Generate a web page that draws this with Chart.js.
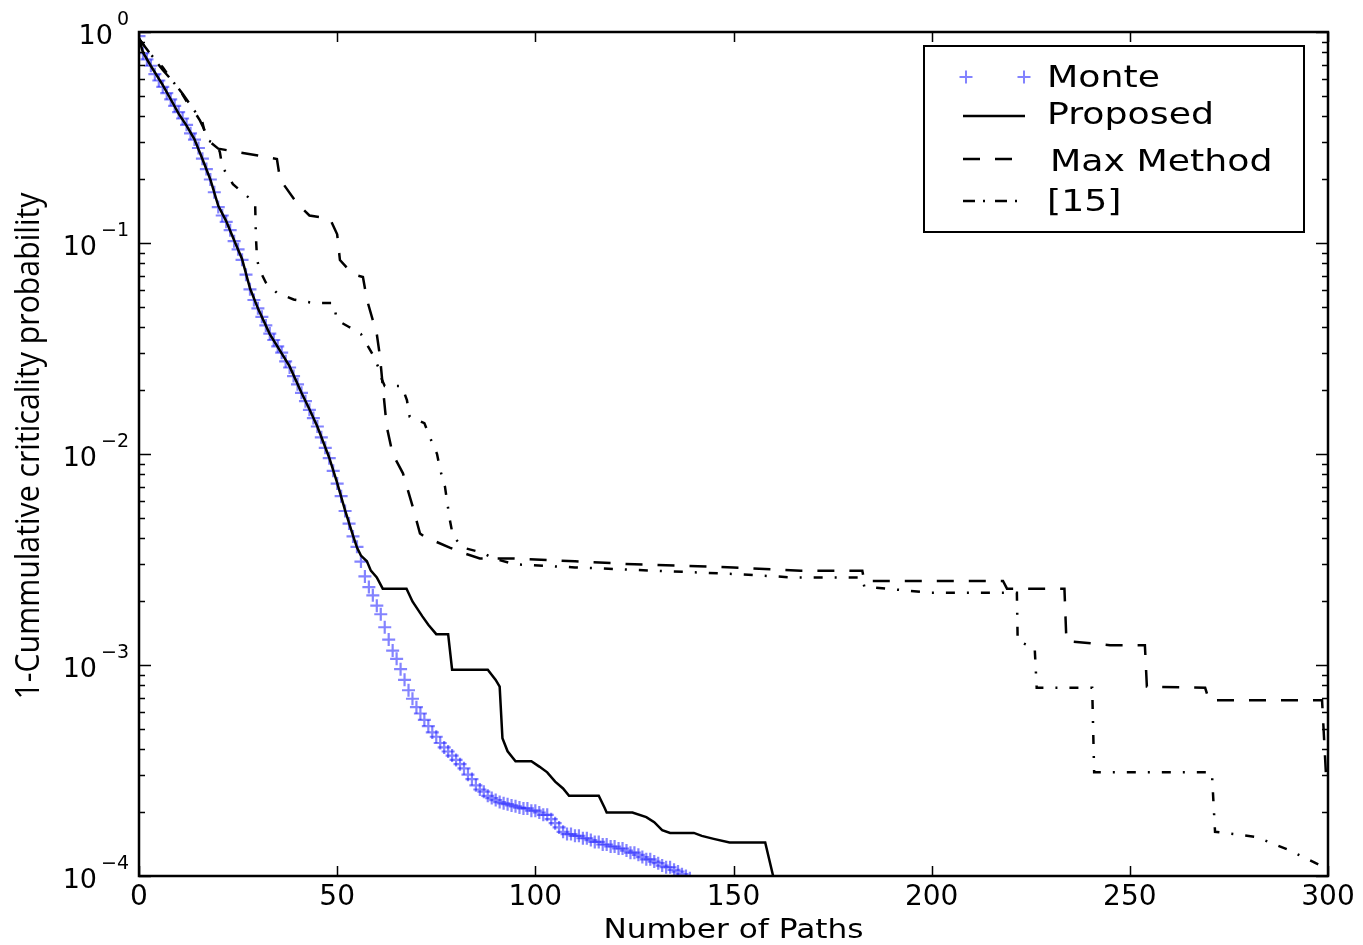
<!DOCTYPE html>
<html>
<head>
<meta charset="utf-8">
<script src="https://cdn.jsdelivr.net/npm/chart.js@4.4.0/dist/chart.umd.min.js"></script>
<style>
  html, body { margin: 0; padding: 0; background: #fff; }
  #wrap { width: 1363px; height: 945px; }
</style>
</head>
<body>
<div id="wrap"><canvas id="pathChart" width="1363" height="945"></canvas></div>
<script>
// axis ticks
const xTicks = [0, 50, 100, 150, 200, 250, 300];
const yDecades = [0, -1, -2, -3, -4];

// Monte Carlo estimate, one value per path count (x = 0, 1, 2, ...)
const monteProb = [
  0.955, 0.794, 0.741, 0.692, 0.631, 0.589, 0.550, 0.513, 0.479, 0.447,
  0.417, 0.389, 0.363, 0.331, 0.309, 0.282, 0.251, 0.224, 0.200, 0.174,
  0.148, 0.135, 0.126, 0.115, 0.102, 0.0933, 0.0832, 0.0708, 0.0603, 0.0537,
  0.0490, 0.0447, 0.0407, 0.0372, 0.0347, 0.0324, 0.0302, 0.0275, 0.0257, 0.0234,
  0.0214, 0.0195, 0.0178, 0.0162, 0.0148, 0.0135, 0.0120, 0.0107, 0.00955, 0.00832,
  0.00724, 0.00631, 0.00537, 0.00468, 0.00407, 0.00363, 0.00309, 0.00263, 0.00234, 0.00214,
  0.00191, 0.00174, 0.00151, 0.00132, 0.00117, 0.00107, 0.000955, 0.000851, 0.000759, 0.000692,
  0.000631, 0.000589, 0.000550, 0.000513, 0.000479, 0.000457, 0.000427, 0.000407, 0.000389, 0.000372,
  0.000355, 0.000339, 0.000324, 0.000302, 0.000288, 0.000269, 0.000257, 0.000251, 0.000240, 0.000234,
  0.000229, 0.000224, 0.000221, 0.000219, 0.000216, 0.000214, 0.000211, 0.000209, 0.000209, 0.000204,
  0.000204, 0.000200, 0.000195, 0.000195, 0.000186, 0.000178, 0.000170, 0.000162, 0.000158, 0.000158,
  0.000155, 0.000155, 0.000151, 0.000151, 0.000148, 0.000145, 0.000145, 0.000141, 0.000141, 0.000138,
  0.000138, 0.000135, 0.000135, 0.000132, 0.000129, 0.000129, 0.000126, 0.000123, 0.000120, 0.000120,
  0.000117, 0.000115, 0.000112, 0.000110, 0.000110, 0.000107, 0.000105, 0.000102, 0.000100, 0.0000977
];

// proposed method
const proposedX = [0, 1, 3, 6, 8, 10, 12, 14, 16, 18, 20, 22, 24, 26, 28, 30, 33, 36, 38, 41,
  43, 45, 48, 50, 52, 54, 55, 56, 57.5, 58.5, 60, 61.5, 67.5, 69, 71.5, 73, 75, 78, 79, 88,
  90, 91, 91.7, 93, 95, 99, 101, 103, 105, 107, 108.5, 116, 117.5, 118, 124.5, 128, 130, 132, 134, 140,
  142, 145, 149, 158, 160, 162];
const proposedY = [0.93, 0.80, 0.69, 0.56, 0.48, 0.41, 0.36, 0.31, 0.25, 0.20, 0.15, 0.127, 0.103, 0.084, 0.061, 0.049, 0.037, 0.030, 0.026, 0.0195,
  0.0163, 0.0135, 0.0096, 0.0073, 0.0054, 0.0041, 0.0036, 0.0033, 0.0031, 0.0028, 0.0026, 0.0023, 0.0023, 0.0020, 0.0017, 0.00155, 0.0014, 0.0014, 0.00095, 0.00095,
  0.00085, 0.00079, 0.00045, 0.00039, 0.00035, 0.00035, 0.00033, 0.00031, 0.00028, 0.00026, 0.00024, 0.00024, 0.00021, 0.00020, 0.00020, 0.00019, 0.00018, 0.000165, 0.00016, 0.00016,
  0.000155, 0.00015, 0.000144, 0.000144, 0.0001, 0.000098];

// max method
const maxX = [0, 3, 6, 9, 11, 13, 15.4, 18, 20, 24.7, 30, 34.8, 35.6, 39.8, 43, 48.2, 50, 50.7, 54, 56.5,
  57.5, 60, 60.8, 61.5, 62.5, 64, 66.6, 69.1, 70.9, 72.5, 74.1, 78.4, 81.7, 86, 94, 110, 125, 150, 167, 182.5,
  183, 218, 219, 233.5, 234, 245, 253.8, 254.3, 269, 270, 298.5, 299.5, 300];
const maxY = [0.93, 0.78, 0.66, 0.57, 0.51, 0.45, 0.38, 0.30, 0.28, 0.27, 0.26, 0.25, 0.20, 0.155, 0.135, 0.13, 0.11, 0.083, 0.071, 0.069,
  0.054, 0.037, 0.029, 0.021, 0.0135, 0.010, 0.0081, 0.0056, 0.0042, 0.0040, 0.0039, 0.0036, 0.0034, 0.0032, 0.0032, 0.0031, 0.0030, 0.0029, 0.0028, 0.0028,
  0.0025, 0.0025, 0.0023, 0.0023, 0.0013, 0.00124, 0.00124, 0.00079, 0.00078, 0.00068, 0.00068, 0.0003, 0.00029];

// method of [15]
const ref15X = [0, 3, 6, 8, 10.3, 12, 14.6, 15.9, 17, 19.7, 20.4, 21, 23.7, 26.7, 29.3, 29.5, 29.8, 30.5, 32, 34.8,
  39, 43.9, 49, 50, 53, 56, 58.8, 60.3, 61.3, 62, 66.3, 67.6, 68.3, 72, 73.4, 75.2, 76, 77.2, 78.4, 79.2,
  81.7, 86.8, 89.3, 95, 110, 130, 150, 165, 182.5, 183, 200, 221.5, 221.7, 226, 226.5, 240.5, 241, 270.7, 271.5, 282,
  290, 299];
const ref15Y = [0.93, 0.78, 0.68, 0.60, 0.53, 0.47, 0.41, 0.38, 0.31, 0.29, 0.27, 0.23, 0.19, 0.17, 0.155, 0.107, 0.083, 0.074, 0.065, 0.058,
  0.054, 0.052, 0.052, 0.043, 0.040, 0.037, 0.030, 0.026, 0.0225, 0.021, 0.021, 0.018, 0.015, 0.014, 0.012, 0.010, 0.0084, 0.0070, 0.0049, 0.0041,
  0.0036, 0.0034, 0.0032, 0.0030, 0.0029, 0.0028, 0.0027, 0.0026, 0.0026, 0.00235, 0.0022, 0.0022, 0.0013, 0.0012, 0.00078, 0.00078, 0.00031, 0.00031, 0.000162, 0.000153,
  0.000133, 0.00011];

const seriesNames = ['Monte', 'Proposed', 'Max Method', '[15]'];

const FONT = '"DejaVu Sans", sans-serif';
const monteColor = 'rgba(30, 30, 255, 0.55)';
const dashMax = [17, 15];
const dashRef = [9, 12, 2, 12];

function pairs(xs, ys) {
  return xs.map((x, i) => ({ x: x, y: ys[i] }));
}

// text drawn with a horizontal stretch, like the original figure
function wideText(ctx, text, x, y, size, sx, align) {
  ctx.save();
  ctx.font = size + 'px ' + FONT;
  ctx.translate(x, y);
  ctx.scale(sx, 1);
  ctx.textAlign = align || 'left';
  ctx.textBaseline = 'alphabetic';
  ctx.fillText(text, 0, 0);
  ctx.restore();
}

function drawCross(ctx, x, y, r) {
  ctx.beginPath();
  ctx.moveTo(x - r, y); ctx.lineTo(x + r, y);
  ctx.moveTo(x, y - r); ctx.lineTo(x, y + r);
  ctx.stroke();
}

// frame, inward ticks, tick labels, axis titles and legend box
const axesDecor = {
  id: 'axesDecor',
  afterDraw(chart) {
    const ctx = chart.ctx;
    const a = chart.chartArea;
    const xs = chart.scales.x, ys = chart.scales.y;
    ctx.save();
    ctx.strokeStyle = '#000';
    ctx.fillStyle = '#000';

    // ticks
    ctx.lineWidth = 1.5;
    ctx.beginPath();
    xTicks.forEach(v => {
      const px = Math.round(xs.getPixelForValue(v)) + 0.5;
      ctx.moveTo(px, a.bottom); ctx.lineTo(px, a.bottom - 10);
      ctx.moveTo(px, a.top); ctx.lineTo(px, a.top + 10);
    });
    yDecades.forEach(e => {
      for (let m = 1; m < 10; m++) {
        const v = m * Math.pow(10, e);
        if (v > 1.0000001) break;
        const py = Math.round(ys.getPixelForValue(v)) + 0.5;
        const len = m === 1 ? 12 : 6;
        ctx.moveTo(a.left, py); ctx.lineTo(a.left + len, py);
        ctx.moveTo(a.right, py); ctx.lineTo(a.right - len, py);
      }
    });
    ctx.stroke();

    // frame
    ctx.lineWidth = 2.5;
    ctx.strokeRect(a.left, a.top, a.right - a.left, a.bottom - a.top);

    // x tick labels
    ctx.font = '28px ' + FONT;
    ctx.textAlign = 'center';
    ctx.textBaseline = 'alphabetic';
    xTicks.forEach(v => {
      ctx.fillText(String(v), xs.getPixelForValue(v), a.bottom + 29);
    });

    // y tick labels as powers of ten
    ctx.textAlign = 'left';
    yDecades.forEach(e => {
      const py = ys.getPixelForValue(Math.pow(10, e));
      const sup = e === 0 ? '0' : '\u2212' + (-e);
      ctx.font = '27px ' + FONT;
      const wb = ctx.measureText('10').width;
      ctx.font = '19px ' + FONT;
      const ws = ctx.measureText(sup).width;
      const x0 = a.left - 10 - ws - 4 - wb;
      ctx.font = '27px ' + FONT;
      ctx.fillText('10', x0, py + 12);
      ctx.font = '19px ' + FONT;
      ctx.fillText(sup, x0 + wb + 4, py - 7);
    });

    // axis titles
    wideText(ctx, 'Number of Paths', (a.left + a.right) / 2, 938, 26, 1.2, 'center');

    const yTitle = '1-Cummulative criticality probability';
    ctx.save();
    ctx.font = '32px "Open Sans", sans-serif';
    const tw = ctx.measureText(yTitle).width;
    ctx.translate(39, 446);
    ctx.rotate(-Math.PI / 2);
    ctx.scale(507 / tw, 1);
    ctx.textAlign = 'center';
    ctx.textBaseline = 'alphabetic';
    ctx.fillText(yTitle, 0, 0);
    ctx.restore();

    // legend
    const bx = 924, by = 46, bw = 380, bh = 186;
    ctx.fillStyle = '#fff';
    ctx.fillRect(bx, by, bw, bh);
    ctx.lineWidth = 2;
    ctx.strokeStyle = '#000';
    ctx.strokeRect(bx, by, bw, bh);

    const hx0 = 963, hx1 = 1025;
    ctx.strokeStyle = monteColor;
    ctx.lineWidth = 2;
    drawCross(ctx, hx0 + 3, 77, 6.5);
    drawCross(ctx, hx1 - 1, 77, 6.5);

    ctx.strokeStyle = '#000';
    ctx.lineWidth = 2.5;
    ctx.beginPath(); ctx.moveTo(hx0, 116); ctx.lineTo(hx1, 116); ctx.stroke();
    ctx.setLineDash(dashMax);
    ctx.beginPath(); ctx.moveTo(hx0, 159); ctx.lineTo(hx1, 159); ctx.stroke();
    ctx.setLineDash([12, 8, 2, 10]);
    ctx.beginPath(); ctx.moveTo(hx0, 201); ctx.lineTo(hx1, 201); ctx.stroke();
    ctx.setLineDash([]);

    ctx.fillStyle = '#000';
    const baselines = [87, 124, 171, 211];
    const textX = [1047, 1047, 1050, 1047];
    seriesNames.forEach((name, i) => wideText(ctx, name, textX[i], baselines[i], 31, 1.17, 'left'));

    ctx.restore();
  }
};

const ctx = document.getElementById('pathChart');
new Chart(ctx, {
  type: 'line',
  data: {
    datasets: [
      {
        label: seriesNames[0],
        data: monteProb.map((p, i) => ({ x: i, y: p })),
        showLine: false,
        pointStyle: 'cross',
        pointRadius: 6.5,
        pointBorderWidth: 2.2,
        pointBorderColor: monteColor,
        pointBackgroundColor: monteColor,
        order: 4
      },
      {
        label: seriesNames[1],
        data: pairs(proposedX, proposedY),
        borderColor: '#000',
        borderWidth: 2.5,
        pointRadius: 0,
        fill: false,
        order: 3
      },
      {
        label: seriesNames[2],
        data: pairs(maxX, maxY),
        borderColor: '#000',
        borderWidth: 2.5,
        borderDash: dashMax,
        pointRadius: 0,
        fill: false,
        order: 2
      },
      {
        label: seriesNames[3],
        data: pairs(ref15X, ref15Y),
        borderColor: '#000',
        borderWidth: 2.5,
        borderDash: dashRef,
        pointRadius: 0,
        fill: false,
        order: 1
      }
    ]
  },
  options: {
    responsive: false,
    animation: false,
    devicePixelRatio: 1,
    events: [],
    layout: {
      padding: { left: 139, right: 35, top: 32, bottom: 69 }
    },
    scales: {
      x: {
        type: 'linear',
        min: 0,
        max: 300,
        display: false
      },
      y: {
        type: 'logarithmic',
        min: 1e-4,
        max: 1,
        display: false
      }
    },
    plugins: {
      legend: { display: false },
      tooltip: { enabled: false }
    }
  },
  plugins: [axesDecor]
});
</script>
</body>
</html>
